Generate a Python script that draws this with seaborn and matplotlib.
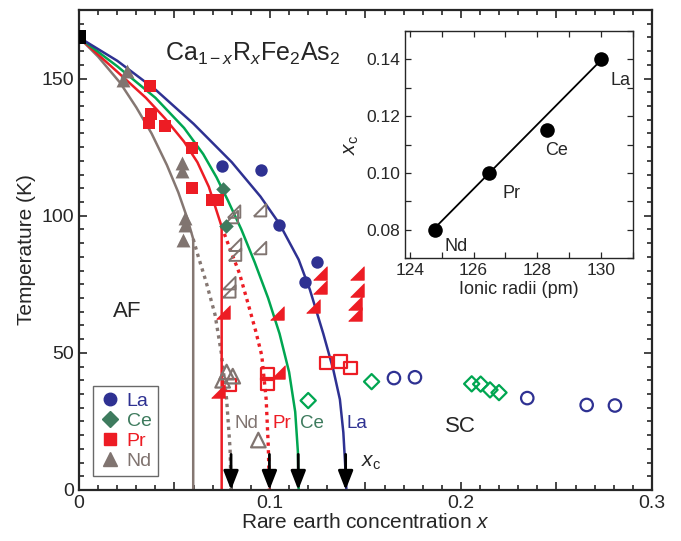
import matplotlib
matplotlib.use('Agg')
from matplotlib import pyplot as plt
from matplotlib.lines import Line2D
from matplotlib.ticker import MultipleLocator, FormatStrFormatter
import seaborn as sns

# parent compound
parent_x = [0.0]
parent_T = [165]

# filled symbols: AF / structural transition
la_x = [0.0749, 0.0953, 0.1047, 0.1246, 0.1183]
la_T = [118.2, 116.8, 96.7, 83.2, 75.9]
ce_x = [0.0752, 0.0768]
ce_T = [109.7, 96.1]
pr_x = [0.0372, 0.0377, 0.0366, 0.045, 0.059, 0.059, 0.0695, 0.0728]
pr_T = [147.2, 137.2, 133.8, 132.6, 124.7, 110.1, 105.8, 105.6]
nd_x = [0.025, 0.0232, 0.0538, 0.0538, 0.0555, 0.0555, 0.0546]
nd_T = [152.7, 149.6, 119.2, 116.2, 99.2, 96.7, 91.2]

# half symbols
prh_x = [0.1262, 0.1262, 0.1454, 0.1454, 0.1227, 0.1445, 0.1445, 0.1035, 0.0755, 0.1043, 0.0729]
prh_T = [79, 74, 79, 73, 67, 68, 64, 64.5, 65, 43, 36]
ndh_x = [0.0800, 0.0812, 0.0948, 0.0817, 0.0817, 0.0948, 0.0787, 0.0787]
ndh_T = [99.5, 101.5, 102, 89.4, 85.8, 88.2, 75.4, 72.4]

# open symbols: superconducting Tc
la_sc_x = [0.1649, 0.1759, 0.2347, 0.2658, 0.2806]
la_sc_T = [40.8, 41.1, 33.5, 31.0, 30.8]
ce_sc_x = [0.1200, 0.1532, 0.2056, 0.2103, 0.2152, 0.2199]
ce_sc_T = [32.6, 39.5, 38.7, 38.6, 36.5, 35.5]
pr_sc_x = [0.1293, 0.1370, 0.1422, 0.0986, 0.0986, 0.0787]
pr_sc_T = [46.2, 46.8, 44.4, 42.3, 38.7, 38.3]
nd_sc_x = [0.0752, 0.0773, 0.0805, 0.0939]
nd_sc_T = [40.0, 43.0, 41.5, 18.2]

# phase boundary curves
la_line_x = [0, 0.02, 0.04, 0.06, 0.08, 0.095, 0.105, 0.115, 0.1209, 0.1279, 0.1331, 0.1366, 0.1384, 0.1393, 0.14]
la_line_T = [165, 156.5, 146, 133.5, 119.5, 107, 97, 84, 73, 57, 44, 33, 21, 10, 0]
ce_line_x = [0, 0.02, 0.04, 0.055, 0.065, 0.072, 0.078, 0.085, 0.092, 0.099, 0.105, 0.11, 0.1132, 0.1146, 0.115]
ce_line_T = [165, 154.5, 143, 132, 122.5, 114, 105.5, 95, 83, 70, 57, 43, 28.5, 14, 0]
pr_line_x = [0, 0.02, 0.035, 0.045, 0.055, 0.062, 0.068, 0.0747, 0.0747]
pr_line_T = [165, 152.5, 143, 135.5, 127, 119.5, 110.5, 96, 0]
pr_dot_x = [0.0747, 0.079, 0.084, 0.0885, 0.0925, 0.0957, 0.098, 0.0991, 0.0997]
pr_dot_T = [96, 88, 79, 68, 58, 49, 33, 16, 0]
nd_line_x = [0, 0.01, 0.0215, 0.03, 0.038, 0.046, 0.052, 0.0565, 0.0598, 0.0598]
nd_line_T = [165, 158, 148.5, 139.5, 130, 118.5, 108.5, 99.5, 91.5, 0]
nd_dot_x = [0.0598, 0.0625, 0.0665, 0.0712, 0.0745, 0.0773, 0.0791, 0.0796]
nd_dot_T = [91.5, 85, 76, 64, 50, 33, 15, 0]

xc_arrows = [0.0796, 0.0997, 0.1148, 0.1396]

# inset
radii = [124.8, 126.5, 128.3, 130.0]
xc_vals = [0.080, 0.100, 0.115, 0.140]
elements = ['Nd', 'Pr', 'Ce', 'La']
fit_r = [124.84, 129.89]
fit_xc = [0.0812, 0.1385]

LA = '#2e3192'
CE = '#3e7b5e'
CE_L = '#00a651'
PR = '#ed1c24'
ND = '#807470'

sns.set_style('ticks')
plt.rcParams['font.family'] = ['Liberation Sans', 'DejaVu Sans']
plt.rcParams['mathtext.fontset'] = 'custom'
plt.rcParams['mathtext.rm'] = 'Liberation Sans'
plt.rcParams['mathtext.it'] = 'Liberation Sans:italic'
plt.rcParams['mathtext.bf'] = 'Liberation Sans:bold'

half_tri = [(-1, -1), (1, -1), (1, 1), (-1, -1)]

fig = plt.figure(figsize=(6.81, 5.41), dpi=100)
ax = fig.add_axes([0.116, 0.0943, 0.8414, 0.8872])


def dots(x, y, marker, size, face, edge, lw=0.0, z=4, axis=ax):
    sns.scatterplot(x=x, y=y, marker=marker, s=size, facecolor=face,
                    edgecolor=edge, linewidth=lw, zorder=z, ax=axis, legend=False)


def curve(x, y, color, ls='-', lw=1.8):
    sns.lineplot(x=x, y=y, sort=False, estimator=None, color=color,
                 linestyle=ls, linewidth=lw, ax=ax, zorder=2)


curve(nd_line_x, nd_line_T, '#857772')
curve(nd_dot_x, nd_dot_T, '#857772', ls=(0, (1, 1.3)), lw=2.4)
curve(pr_line_x, pr_line_T, PR)
curve(pr_dot_x, pr_dot_T, PR, ls=(0, (1, 1.3)), lw=2.4)
curve(ce_line_x, ce_line_T, CE_L)
curve(la_line_x, la_line_T, LA)

# open symbols
dots(la_sc_x, la_sc_T, 'o', 80, 'none', LA, 1.6)
dots(ce_sc_x, ce_sc_T, 'D', 60, 'none', CE_L, 1.6)
dots(pr_sc_x, pr_sc_T, 's', 80, 'none', PR, 1.6)
dots(nd_sc_x, nd_sc_T, '^', 110, 'none', ND, 1.6)
dots(ndh_x, ndh_T, half_tri, 80, 'none', ND, 1.4)
dots(prh_x, prh_T, half_tri, 95, PR, PR, 0.5)

# filled symbols
dots(la_x, la_T, 'o', 80, LA, LA)
dots(ce_x, ce_T, 'D', 55, CE, CE)
dots(pr_x, pr_T, 's', 85, PR, PR)
dots(nd_x, nd_T, '^', 100, ND, ND)
dots(parent_x, parent_T, 's', 90, 'black', 'black', z=6)

for xc in xc_arrows:
    ax.annotate('', xy=(xc, 0), xytext=(xc, 13),
                arrowprops=dict(arrowstyle='-|>,head_length=1.15,head_width=0.45',
                                color='black', lw=2, shrinkA=0, shrinkB=0),
                zorder=7, annotation_clip=False)

ax.set_xlim(0, 0.3)
ax.set_ylim(0, 175)
ax.xaxis.set_major_locator(MultipleLocator(0.05))
ax.xaxis.set_minor_locator(MultipleLocator(0.01))
ax.yaxis.set_major_locator(MultipleLocator(50))
ax.yaxis.set_minor_locator(MultipleLocator(5))
ax.set_xticklabels(['0' if abs(v) < 1e-9 else ('%.1f' % v if abs(v * 10 - round(v * 10)) < 1e-6 else '')
                    for v in ax.get_xticks()])
ax.tick_params(which='both', direction='in', top=True, right=True, width=1.2, labelsize=14)
ax.tick_params(which='major', length=6)
ax.tick_params(which='minor', length=3.5)
for sp in ax.spines.values():
    sp.set_linewidth(1.6)
ax.set_xlabel('Rare earth concentration $x$', fontsize=15, labelpad=1)
ax.set_ylabel('Temperature (K)', fontsize=15, labelpad=4)

ax.text(0.091, 159, r'Ca$_{1-x}$R$_x$Fe$_2$As$_2$', fontsize=18, ha='center', va='center')
ax.text(0.025, 65, 'AF', fontsize=16, ha='center', va='center')
ax.text(0.1995, 23, 'SC', fontsize=16, ha='center', va='center')
ax.text(0.0878, 24.3, 'Nd', color=ND, fontsize=13.5, ha='center', va='center')
ax.text(0.1061, 24.3, 'Pr', color=PR, fontsize=13.5, ha='center', va='center')
ax.text(0.1218, 24.3, 'Ce', color=CE, fontsize=13.5, ha='center', va='center')
ax.text(0.1454, 24.3, 'La', color=LA, fontsize=13.5, ha='center', va='center')
ax.text(0.153, 10, r'$x_\mathrm{c}$', fontsize=15, ha='center', va='center')

handles = [Line2D([], [], ls='none', marker='o', color=LA, markersize=9),
           Line2D([], [], ls='none', marker='D', color=CE, markersize=8),
           Line2D([], [], ls='none', marker='s', color=PR, markersize=8.5),
           Line2D([], [], ls='none', marker='^', color=ND, markersize=10)]
leg = ax.legend(handles, ['La', 'Ce', 'Pr', 'Nd'], loc='lower left', bbox_to_anchor=(0.024, 0.03),
                fontsize=14, labelcolor='markerfacecolor', frameon=True, fancybox=False,
                edgecolor='#444444', handlelength=1.2, handletextpad=0.25, borderpad=0.3,
                labelspacing=0.12, borderaxespad=0)
leg.get_frame().set_linewidth(1.0)

# inset
ins = fig.add_axes([0.5947, 0.5231, 0.3348, 0.4196])
sns.lineplot(x=fit_r, y=fit_xc, color='black', linewidth=1.3, ax=ins, zorder=2)
dots(radii, xc_vals, 'o', 110, 'black', 'black', axis=ins)
lab_pos = [(125.46, 0.0739), (127.18, 0.0929), (128.59, 0.1078), (130.6, 0.1324)]
for el, (px, py) in zip(elements, lab_pos):
    ins.text(px, py, el, fontsize=13, ha='center', va='center')
ins.set_xlim(123.85, 131)
ins.set_ylim(0.07, 0.15)
ins.xaxis.set_major_locator(MultipleLocator(2))
ins.xaxis.set_minor_locator(MultipleLocator(1))
ins.yaxis.set_major_locator(MultipleLocator(0.02))
ins.yaxis.set_minor_locator(MultipleLocator(0.01))
ins.yaxis.set_major_formatter(FormatStrFormatter('%.2f'))
ins.tick_params(which='both', direction='in', top=True, right=True, width=0.9, labelsize=12.5)
ins.tick_params(which='major', length=4.5)
ins.tick_params(which='minor', length=4.5)
for sp in ins.spines.values():
    sp.set_linewidth(1.0)
ins.set_xlabel('Ionic radii (pm)', fontsize=13, labelpad=2)
ins.set_ylabel(r'$x_\mathrm{c}$', fontsize=15, labelpad=4)

fig.savefig('out.png', dpi=100)
